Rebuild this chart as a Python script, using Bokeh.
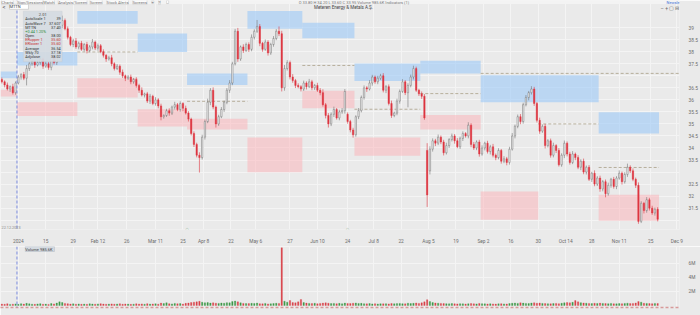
from bokeh.plotting import figure
from bokeh.models import Range1d, FixedTicker, Span, Label, BoxAnnotation, ColumnDataSource
from bokeh.layouts import column
from bokeh.embed import file_html
from bokeh.resources import INLINE

# ---------------- data ----------------
closes = [
    36.75, 36.62, 36.45, 36.55, 36.30, 36.70,
    36.95, 37.05, 36.90, 37.30, 37.50, 37.60, 37.45, 37.55, 37.70, 37.40,
    37.50, 37.35, 37.80, 37.55, 38.30, 39.10, 39.30, 38.95, 38.60, 38.30,
    38.45, 38.20,
    38.35, 38.10, 38.30, 38.05, 38.20, 38.40, 38.15, 38.25, 38.00, 37.85,
    37.70, 37.75, 37.50, 37.30, 37.40, 37.15, 37.00, 36.90, 36.95, 36.75,
    36.85, 36.60,
    36.40, 36.20, 36.25, 35.95, 36.15, 35.85, 36.00, 35.75, 35.30, 35.35,
    35.55, 35.45, 35.70, 35.80, 35.60, 35.85, 35.65, 35.45,
    35.20, 34.60, 34.15, 33.70, 33.60, 34.45, 35.10, 35.90, 36.40, 35.70,
    35.00, 35.30, 35.60, 35.90, 36.40, 36.70, 37.50, 38.85, 37.70, 38.20,
    38.05, 38.30,
    38.10, 38.60, 38.85, 39.05, 38.35, 38.10, 38.40, 37.95, 38.30, 38.55,
    38.85, 38.75, 36.50, 37.30, 37.55, 36.95, 36.80, 36.60, 36.55, 36.45,
    36.70, 36.55, 36.75, 36.50, 36.60, 36.40, 36.30, 35.80, 35.35, 35.00,
    35.40, 35.60, 35.25, 35.50, 35.55, 36.35, 35.10, 34.75, 34.55,
    35.30, 35.55, 36.10, 36.50, 36.45, 36.70, 36.95, 36.75, 36.90, 37.00,
    36.40, 36.55, 35.85, 35.35, 35.45, 35.95, 36.35, 36.75, 36.30, 36.60,
    36.95, 37.30, 36.40, 36.25,
    36.15, 35.25, 32.05, 33.95, 34.30, 34.20, 34.45, 34.25, 33.80, 34.10,
    34.35, 34.50, 34.30, 34.05, 34.40, 34.60, 34.50, 34.95, 34.15, 34.00,
    34.25, 33.75,
    34.00, 34.20, 33.85, 34.05, 33.70, 33.60, 33.90, 33.45, 33.55, 33.40,
    33.95, 34.50, 34.90, 35.30, 35.10, 35.80, 36.10, 36.30, 36.45, 35.85,
    35.15, 34.70, 34.90, 34.10, 34.30, 33.70, 34.10, 33.90, 33.30, 33.70,
    34.20, 33.75, 33.40, 33.75, 33.60, 33.20, 33.45, 33.00, 33.20, 32.70,
    32.95, 32.50, 32.75,
    32.30, 32.60, 32.10, 32.45, 32.70, 32.40, 32.75, 32.95, 32.60, 32.90,
    33.20, 33.05, 32.70, 32.45, 30.95, 31.70, 31.40, 31.85, 31.50, 31.30,
    31.45, 31.04,
]
first_open = 36.85
gap_opens = {126: 35.40, 155: 33.90, 156: 33.05}

wick_hi = [
    8, 6, 10, 5, 12, 7, 9, 6, 11, 15,
    7, 12, 5, 9, 14, 6, 10, 8, 11, 6,
    25, 12, 20, 8, 10, 6, 9, 12, 7, 10,
    6, 11, 8, 13, 6, 9, 7, 10, 5, 8,
    12, 6, 9, 7, 11, 5, 8, 10, 6, 9,
    7, 12, 5, 8, 10, 6, 11, 7, 9, 5,
    8, 10, 6, 12, 7, 9, 5, 11, 8, 6,
    9, 7, 12, 10, 8, 15, 9, 12, 6, 8,
    10, 7, 9, 12, 8, 10, 14, 6, 11, 8,
    9, 12, 8, 27, 10, 6, 11, 8, 7, 10,
    9, 20, 12, 15, 10, 8, 12, 7, 9, 6,
    10, 7, 12, 8, 6, 11, 9, 14, 7, 10,
    8, 12, 6, 9, 11, 10, 8, 7, 9, 6,
    11, 8, 10, 7, 12, 9, 6, 10, 8, 11,
    7, 9, 12, 6, 10, 8, 11, 7, 9, 10,
    12, 8, 6, 10, 9, 30, 12, 10, 8, 11,
    7, 9, 12, 6, 10, 8, 11, 7, 9, 6,
    12, 8, 10, 7, 9, 11, 6, 10, 8, 12,
    7, 9, 6, 11, 8, 10, 12, 7, 9, 11,
    8, 10, 7, 12, 9, 6, 11, 8, 10, 7,
    9, 12, 6, 10, 8, 11, 7, 9, 12, 6,
    10, 8, 11, 7, 9, 6, 12, 8, 10, 7,
    9, 11, 6, 10, 8, 12, 7, 9, 15, 8,
    10, 7, 12, 9, 6, 11, 8, 10, 7, 9,
]
wick_lo = [
    7, 10, 6, 12, 8, 9, 6, 11, 8, 30,
    10, 8, 12, 6, 9, 11, 7, 10, 12, 8,
    10, 8, 12, 6, 9, 7, 11, 8, 10, 6,
    9, 12, 7, 10, 8, 11, 6, 9, 12, 7,
    10, 8, 6, 11, 9, 12, 7, 10, 8, 9,
    11, 6, 10, 8, 12, 7, 9, 10, 15, 8,
    6, 11, 8, 10, 7, 9, 12, 6, 10, 8,
    11, 9, 62, 8, 10, 7, 12, 9, 15, 8,
    6, 10, 8, 11, 9, 7, 12, 8, 10, 6,
    11, 8, 9, 7, 12, 10, 6, 11, 8, 9,
    7, 10, 15, 12, 8, 10, 9, 11, 7, 10,
    8, 12, 6, 10, 9, 7, 11, 8, 12, 15,
    9, 11, 7, 10, 8, 12, 9, 10, 12, 8,
    10, 7, 9, 12, 6, 11, 8, 10, 7, 9,
    12, 8, 10, 7, 9, 11, 6, 10, 61, 8,
    10, 7, 9, 11, 8, 50, 15, 10, 12, 8,
    9, 11, 7, 10, 8, 12, 6, 9, 11, 7,
    10, 12, 8, 9, 11, 7, 10, 8, 12, 9,
    11, 7, 10, 8, 12, 9, 6, 10, 8, 11,
    9, 7, 12, 8, 10, 9, 11, 7, 12, 8,
    10, 9, 11, 7, 8, 12, 10, 9, 7, 11,
    8, 12, 9, 10, 7, 11, 9, 8, 12, 10,
    15, 8, 10, 9, 11, 7, 12, 8, 10, 9,
    8, 11, 10, 7, 12, 9, 10, 8, 11, 9,
]
volume_k = [
    210, 180, 250, 160, 190, 230, 170, 260, 200, 310,
    240, 190, 170, 220, 260, 180, 210, 160, 280, 230,
    350, 520, 430, 300, 260, 210, 240, 190, 220, 180,
    200, 170, 240, 210, 190, 230, 260, 210, 180, 200,
    230, 190, 210, 250, 180, 220, 200, 170, 190, 240,
    210, 230, 180, 260, 200, 220, 250, 190, 340, 280,
    380, 260, 230, 300, 250, 270, 220, 310, 360, 430,
    480, 520, 600, 470, 390, 420, 350, 380, 330, 300,
    360, 320, 410, 380, 560, 640, 520, 380, 300, 280,
    270, 310, 290, 350, 260, 240, 300, 230, 250, 280,
    320, 300, 8250, 620, 480, 710, 420, 380, 520, 860,
    420, 350, 300, 280, 320, 260, 300, 350, 380, 330,
    280, 300, 260, 310, 250, 340, 300, 280, 320, 360,
    290, 310, 260, 240, 280, 230, 260, 220, 250, 240,
    260, 230, 290, 250, 270, 300, 260, 240, 330, 280,
    310, 360, 300, 380, 520, 820, 560, 420, 360, 330,
    300, 280, 260, 240, 280, 250, 230, 260, 240, 220,
    250, 280, 240, 230, 300, 260, 240, 220, 250, 230,
    210, 240, 260, 230, 220, 280, 320, 350, 300, 380,
    340, 300, 280, 350, 380, 320, 360, 300, 280, 260,
    250, 280, 300, 260, 320, 380, 420, 380, 450, 700,
    520, 400, 360, 330, 300, 280, 320, 290, 340, 300,
    280, 260, 300, 250, 240, 280, 260, 300, 330, 280,
    300, 360, 560, 480, 320, 300, 280, 260, 300, 290,
]

date_ticks = [6.0, 16.0, 26.0, 35.0, 45.5, 56.0, 66.0, 73.5, 83.5, 92.5, 105.0, 115.0,
              126.0, 135.5, 145.5, 155.5, 165.5, 175.5, 185.5, 195.5, 205.5, 215.0,
              225.0, 236.5, 246.0]
date_labels = ["2024", "15", "29", "Feb 12", "26", "Mar 11", "25", "Apr 8", "22", "May 6",
               "27", "Jun 10", "24", "Jul 8", "22", "Aug 5", "19", "Sep 2", "16", "30",
               "Oct 14", "28", "Nov 11", "25", "Dec 9"]
price_ticks = [31.5, 32.0, 32.5, 33.5, 34.0, 34.5, 35.0, 35.5, 36.0, 36.5, 37.5, 38.0, 38.5, 39.0]
price_grid = [31.0, 31.5, 32.0, 32.5, 33.0, 33.5, 34.0, 34.5, 35.0, 35.5, 36.0, 36.5,
              37.0, 37.5, 38.0, 38.5, 39.0]
vol_ticks = [2e6, 4e6, 6e6]
vol_labels = ["2M", "4M", "6M"]

blue_start = [0, 6, 28, 50, 68, 90, 110, 129, 153, 175, 196, 218]
blue_end = [5, 27, 49, 67, 89, 109, 128, 152, 174, 195, 217, 239]
blue_top = [37.18, 37.99, 39.69, 38.76, 37.10, 39.69, 39.20, 37.51, 37.63, 37.02, 37.02, 35.49]
blue_bottom = [36.90, 37.43, 39.16, 37.99, 36.62, 38.96, 38.56, 36.78, 37.10, 35.90, 35.90, 34.60]
red_start = [0, 6, 28, 50, 68, 90, 110, 129, 153, 175, 218]
red_end = [5, 27, 49, 67, 89, 109, 128, 152, 174, 195, 239]
red_top = [36.42, 35.90, 36.90, 35.61, 35.21, 34.44, 36.38, 34.44, 35.37, 32.19, 32.06]
red_bottom = [36.14, 35.33, 36.10, 34.89, 34.77, 32.99, 35.65, 33.68, 34.77, 31.02, 30.98]
pivot_start = [28, 68, 110, 129, 153, 196, 218]
pivot_end = [49, 89, 128, 152, 174, 217, 239]
pivot_level = [37.99, 35.94, 37.43, 35.61, 36.26, 35.00, 33.19]
ref_start = 175
ref_level = 37.10
year_bar = 5.5
event_bars = [67.5, 126.0]

# ---------------- layout helpers (pixel -> data for overlays) ----------------
PXB = 2.76                      # pixels per bar
FRAME_W = 683
X0 = -0.5
X1 = X0 + FRAME_W / PXB


def bx(px):
    return px / PXB - 0.5


def py(px):
    return 39.0 - (px - 28.0) / 24.8


def vy(px):  # volume pane, px in page coordinates
    return (305.0 - px) / 7.0 * 1e6


BG = "#eaeaea"
GRID = "#f4f4f4"
RED = "#dd3540"
FONT = "Roboto"
AX_COL = "#6c6c6c"

n = len(closes)
opens = [first_open] + closes[:-1]
for k, v in gap_opens.items():
    opens[k] = v
xs = list(range(n))
highs = [max(o, c) + w / 100.0 for o, c, w in zip(opens, closes, wick_hi[:n])]
lows = [min(o, c) - w / 100.0 for o, c, w in zip(opens, closes, wick_lo[:n])]
is_up = [c >= o for o, c in zip(opens, closes)]

src = ColumnDataSource(dict(
    x=xs, open=opens, close=closes, high=highs, low=lows,
    top=[max(o, c) for o, c in zip(opens, closes)],
    bottom=[min(o, c) for o, c in zip(opens, closes)],
    body_fill=["#f8f8f8" if u else RED for u in is_up],
    body_line=["#6a6a6a" if u else RED for u in is_up],
    wick=["#777777" if u else RED for u in is_up],
))
vsrc = ColumnDataSource(dict(
    x=xs, vol=[v * 1000 for v in volume_k[:n]],
    color=["#3f9a4a" if u else "#d8434b" for u in is_up],
))

# ---------------- price pane ----------------
p = figure(width=700, height=246, x_range=Range1d(X0, X1), y_range=Range1d(py(236), py(0)),
           output_backend="svg", toolbar_location=None, y_axis_location="right",
           min_border_left=0, min_border_right=17, min_border_top=0, min_border_bottom=10)
p.background_fill_color = BG
p.border_fill_color = BG
p.outline_line_color = None

p.xaxis.ticker = FixedTicker(ticks=date_ticks)
p.xaxis.major_label_overrides = {t: s for t, s in zip(date_ticks, date_labels)}
p.yaxis.ticker = FixedTicker(ticks=price_ticks)
p.yaxis.major_label_overrides = {t: (f"{t:.1f}" if t != int(t) else f"{int(t)}") for t in price_ticks}
for ax in (p.xaxis[0], p.yaxis[0]):
    ax.axis_line_color = None
    ax.major_tick_line_color = None
    ax.minor_tick_line_color = None
    ax.major_label_text_font = FONT
    ax.major_label_text_font_size = "4.8px"
    ax.major_label_text_color = AX_COL
    ax.major_label_standoff = 3
p.xgrid.ticker = FixedTicker(ticks=date_ticks)
p.ygrid.ticker = FixedTicker(ticks=price_grid)
p.xgrid.grid_line_color = GRID
p.ygrid.grid_line_color = GRID

# zones
p.quad(left=[s - 0.5 for s in blue_start], right=[e + 0.5 for e in blue_end],
       top=blue_top, bottom=blue_bottom, fill_color="#94c4f8", fill_alpha=0.55, line_color=None)
p.quad(left=[s - 0.5 for s in red_start], right=[e + 0.5 for e in red_end],
       top=red_top, bottom=red_bottom, fill_color="#fcb0b6", fill_alpha=0.5, line_color=None)
p.segment(x0=[s - 0.5 for s in pivot_start], x1=[e + 0.5 for e in pivot_end],
          y0=pivot_level, y1=pivot_level, line_color="#a99f88", line_dash="3 2", line_width=0.8)
p.segment(x0=[ref_start - 0.5], x1=[X1], y0=[ref_level], y1=[ref_level],
          line_color="#a99f88", line_dash="3 2", line_width=0.8)

# candles
p.segment(x0="x", y0="low", x1="x", y1="high", line_color="wick", line_width=0.6, source=src)
p.vbar(x="x", top="top", bottom="bottom", width=0.5, fill_color="body_fill",
       line_color="body_line", line_width=0.45, source=src)

p.add_layout(Span(location=year_bar, dimension="height", line_color="#6f82df",
                  line_dash="3 2", line_width=0.9))


def txt(fig, x, y, s, size="4.5px", color="#555555", align="left", baseline="middle",
        bg=None, border=None, style="normal", alpha=1.0):
    lab = Label(x=x, y=y, text=s, text_font=FONT, text_font_size=size, text_color=color,
                text_align=align, text_baseline=baseline, text_font_style=style)
    if bg is not None:
        lab.background_fill_color = bg
        lab.background_fill_alpha = alpha
    if border is not None:
        lab.border_line_color = border
        lab.border_line_width = 0.6
    fig.add_layout(lab)


# header strip
p.add_layout(BoxAnnotation(left=X0, right=X1, top=py(0), bottom=py(3.6),
                           fill_color="#f3f3f3", fill_alpha=1, line_color=None))
tabs = [(1, "Charts"), (17, "Sign/Sessions"), (43, "Watch"), (58, "Analysis/Screen"),
        (90, "Screen"), (107, "Stock Alerts"), (133, "Screens"), (152, "+"), (159, "?"),
        (167, "..")]
for tx, tt in tabs:
    txt(p, bx(tx), py(1.6), tt, size="4px", color="#707070", bg="#fbfbfb", border="#cfcfcf")
txt(p, bx(300), py(1.6), "O 33.80  H 34.20  L 33.60  C 33.95   Volume 985.6K   Indicators (1)",
    size="4px", color="#777777")
txt(p, bx(670), py(1.6), "Newsletter", size="4px", color="#3b6fd6")
txt(p, bx(2), py(6.5), "<", size="6px", color="#444444")
txt(p, bx(9), py(6.5), "MTTN        ", size="4px", color="#333333", bg="#ffffff", border="#bdbdbd")
txt(p, bx(345), py(7), "Meteren Energy & Metals A.\u015e.", size="4.5px", color="#444444", align="center")
txt(p, bx(664), py(7.5), "\u2013  +  \u25a2 \u229f \u2261", size="5px", color="#666666")

# data-window box
p.add_layout(BoxAnnotation(left=bx(23), right=bx(62), top=py(11), bottom=py(63),
                           fill_color="#d4dae1", fill_alpha=0.93, line_color="#b5bdc6",
                           line_width=0.7))
txt(p, bx(42.5), py(14), "2.01", size="4px", color="#444444", align="center")
rows = [("AutoScale 1", "39", "#333333"), ("AutoWave 7", "37.607", "#333333"),
        ("MTTN", "37.40", "#333333"), ("+0.44 1.20%", "", "#2f8f3a"),
        ("Open", "38.00", "#333333"), ("ERupper 1", "35.60", "#c9302c"),
        ("ERlower 1", "35.60", "#c9302c"), ("Average", "36.54", "#333333"),
        ("Wkly 70", "37.18", "#333333"), ("Adjclose", "38.02", "#333333")]
for k, (nm, val, col) in enumerate(rows):
    yy = py(19 + 4.3 * k)
    txt(p, bx(25), yy, nm, size="3.8px", color=col)
    if val:
        txt(p, bx(60.5), yy, val, size="3.8px", color=col, align="right")

# right-axis highlighted values
txt(p, bx(686), ref_level, f"{ref_level:.2f}", size="4.8px", color="#666666")
txt(p, bx(686), pivot_level[-1], f"{pivot_level[-1]:.2f}", size="4.8px", color="#5a4a10",
    bg="#efd98a", border="#d9bf5e")
txt(p, bx(686), closes[-1], f"{closes[-1]:.2f}", size="4.8px", color="#1f5e23",
    bg="#a6dca2", border="#6fbf69")

# small date stamp and event icons
txt(p, bx(1), py(234), "22.12.2023", size="3.8px", color="#8a8a8a")
for eb in event_bars:
    txt(p, eb, py(234.5), "\u2302", size="6px", color="#4f8a55", align="center")

# ---------------- volume pane ----------------
v = figure(width=700, height=69, x_range=p.x_range, y_range=Range1d(vy(307), vy(246)),
           output_backend="svg", toolbar_location=None, y_axis_location="right",
           min_border_left=0, min_border_right=17, min_border_top=0, min_border_bottom=8)
v.background_fill_color = BG
v.border_fill_color = BG
v.outline_line_color = None
v.xaxis.ticker = FixedTicker(ticks=[])
v.xaxis.major_tick_line_color = None
v.xaxis.minor_tick_line_color = None
v.xaxis.axis_line_color = "#d79a9a"
v.xaxis.axis_line_dash = "3 2"
v.xaxis.axis_line_width = 1.5
v.yaxis.ticker = FixedTicker(ticks=vol_ticks)
v.yaxis.major_label_overrides = {t: s for t, s in zip(vol_ticks, vol_labels)}
v.yaxis.axis_line_color = None
v.yaxis.major_tick_line_color = None
v.yaxis.minor_tick_line_color = None
v.yaxis.major_label_text_font = FONT
v.yaxis.major_label_text_font_size = "4.8px"
v.yaxis.major_label_text_color = AX_COL
v.yaxis.major_label_standoff = 3
v.xgrid.ticker = FixedTicker(ticks=date_ticks)
v.ygrid.ticker = FixedTicker(ticks=vol_ticks)
v.xgrid.grid_line_color = GRID
v.ygrid.grid_line_color = GRID

v.vbar(x="x", top="vol", bottom=0, width=0.5, fill_color="color", line_color="color",
       line_width=0.3, source=vsrc)
v.add_layout(Span(location=year_bar, dimension="height", line_color="#6f82df",
                  line_dash="3 2", line_width=0.9))
txt(v, bx(25), vy(248.5), "Volume   985.6K", size="4px", color="#444444", bg="#d4dae1",
    border="#b5bdc6")
last_vol = volume_k[n - 1]
txt(v, bx(686), last_vol * 1000, f"{last_vol}K", size="4.8px", color="#1f5e23",
    bg="#a6dca2", border="#6fbf69")

layout = column(p, v, spacing=0)
open("out.html", "w").write(file_html(layout, INLINE))
